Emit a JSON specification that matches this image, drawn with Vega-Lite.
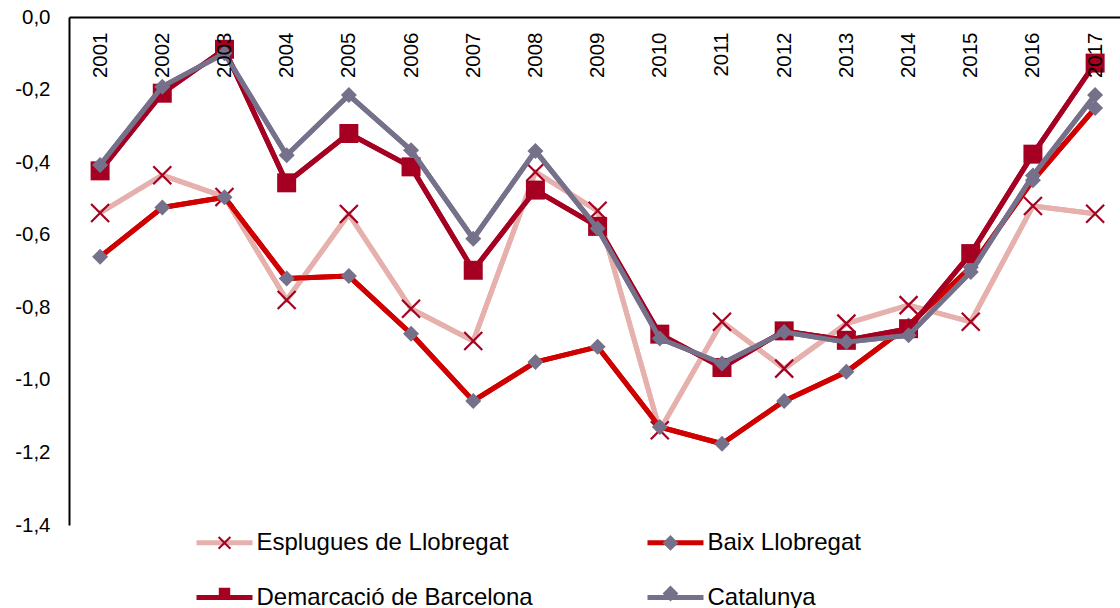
{
  "$schema": "https://vega.github.io/schema/vega-lite/v6.json",
  "width": 1051,
  "height": 508,
  "autosize": {"type": "none"},
  "padding": {"left": 69, "top": 17, "right": 0, "bottom": 83},
  "background": "white",
  "config": {"view": {"stroke": null}},
  "data": {"values": [
    {"year": 2001, "serie": "Esplugues de Llobregat", "v": -0.54},
    {"year": 2002, "serie": "Esplugues de Llobregat", "v": -0.436},
    {"year": 2003, "serie": "Esplugues de Llobregat", "v": -0.496},
    {"year": 2004, "serie": "Esplugues de Llobregat", "v": -0.78},
    {"year": 2005, "serie": "Esplugues de Llobregat", "v": -0.543},
    {"year": 2006, "serie": "Esplugues de Llobregat", "v": -0.804},
    {"year": 2007, "serie": "Esplugues de Llobregat", "v": -0.893},
    {"year": 2008, "serie": "Esplugues de Llobregat", "v": -0.427},
    {"year": 2009, "serie": "Esplugues de Llobregat", "v": -0.534},
    {"year": 2010, "serie": "Esplugues de Llobregat", "v": -1.139},
    {"year": 2011, "serie": "Esplugues de Llobregat", "v": -0.84},
    {"year": 2012, "serie": "Esplugues de Llobregat", "v": -0.969},
    {"year": 2013, "serie": "Esplugues de Llobregat", "v": -0.845},
    {"year": 2014, "serie": "Esplugues de Llobregat", "v": -0.794},
    {"year": 2015, "serie": "Esplugues de Llobregat", "v": -0.84},
    {"year": 2016, "serie": "Esplugues de Llobregat", "v": -0.521},
    {"year": 2017, "serie": "Esplugues de Llobregat", "v": -0.542},
    {"year": 2001, "serie": "Baix Llobregat", "v": -0.661},
    {"year": 2002, "serie": "Baix Llobregat", "v": -0.525},
    {"year": 2003, "serie": "Baix Llobregat", "v": -0.497},
    {"year": 2004, "serie": "Baix Llobregat", "v": -0.721},
    {"year": 2005, "serie": "Baix Llobregat", "v": -0.714},
    {"year": 2006, "serie": "Baix Llobregat", "v": -0.873},
    {"year": 2007, "serie": "Baix Llobregat", "v": -1.058},
    {"year": 2008, "serie": "Baix Llobregat", "v": -0.951},
    {"year": 2009, "serie": "Baix Llobregat", "v": -0.909},
    {"year": 2010, "serie": "Baix Llobregat", "v": -1.13},
    {"year": 2011, "serie": "Baix Llobregat", "v": -1.176},
    {"year": 2012, "serie": "Baix Llobregat", "v": -1.058},
    {"year": 2013, "serie": "Baix Llobregat", "v": -0.978},
    {"year": 2014, "serie": "Baix Llobregat", "v": -0.85},
    {"year": 2015, "serie": "Baix Llobregat", "v": -0.69},
    {"year": 2016, "serie": "Baix Llobregat", "v": -0.45},
    {"year": 2017, "serie": "Baix Llobregat", "v": -0.251},
    {"year": 2001, "serie": "Demarcació de Barcelona", "v": -0.424},
    {"year": 2002, "serie": "Demarcació de Barcelona", "v": -0.21},
    {"year": 2003, "serie": "Demarcació de Barcelona", "v": -0.089},
    {"year": 2004, "serie": "Demarcació de Barcelona", "v": -0.457},
    {"year": 2005, "serie": "Demarcació de Barcelona", "v": -0.321},
    {"year": 2006, "serie": "Demarcació de Barcelona", "v": -0.413},
    {"year": 2007, "serie": "Demarcació de Barcelona", "v": -0.698},
    {"year": 2008, "serie": "Demarcació de Barcelona", "v": -0.477},
    {"year": 2009, "serie": "Demarcació de Barcelona", "v": -0.577},
    {"year": 2010, "serie": "Demarcació de Barcelona", "v": -0.874},
    {"year": 2011, "serie": "Demarcació de Barcelona", "v": -0.966},
    {"year": 2012, "serie": "Demarcació de Barcelona", "v": -0.865},
    {"year": 2013, "serie": "Demarcació de Barcelona", "v": -0.891},
    {"year": 2014, "serie": "Demarcació de Barcelona", "v": -0.859},
    {"year": 2015, "serie": "Demarcació de Barcelona", "v": -0.652},
    {"year": 2016, "serie": "Demarcació de Barcelona", "v": -0.378},
    {"year": 2017, "serie": "Demarcació de Barcelona", "v": -0.127},
    {"year": 2001, "serie": "Catalunya", "v": -0.408},
    {"year": 2002, "serie": "Catalunya", "v": -0.192},
    {"year": 2003, "serie": "Catalunya", "v": -0.1},
    {"year": 2004, "serie": "Catalunya", "v": -0.381},
    {"year": 2005, "serie": "Catalunya", "v": -0.215},
    {"year": 2006, "serie": "Catalunya", "v": -0.367},
    {"year": 2007, "serie": "Catalunya", "v": -0.611},
    {"year": 2008, "serie": "Catalunya", "v": -0.369},
    {"year": 2009, "serie": "Catalunya", "v": -0.583},
    {"year": 2010, "serie": "Catalunya", "v": -0.886},
    {"year": 2011, "serie": "Catalunya", "v": -0.955},
    {"year": 2012, "serie": "Catalunya", "v": -0.868},
    {"year": 2013, "serie": "Catalunya", "v": -0.896},
    {"year": 2014, "serie": "Catalunya", "v": -0.877},
    {"year": 2015, "serie": "Catalunya", "v": -0.703},
    {"year": 2016, "serie": "Catalunya", "v": -0.437},
    {"year": 2017, "serie": "Catalunya", "v": -0.215}
  ]},
  "encoding": {
    "x": {
      "field": "year", "type": "quantitative",
      "scale": {"domain": [2000.5, 2017.4], "nice": false, "zero": false},
      "axis": {
        "orient": "top", "title": null, "grid": false, "ticks": false, "tickSize": 0,
        "values": [2001,2002,2003,2004,2005,2006,2007,2008,2009,2010,2011,2012,2013,2014,2015,2016,2017],
        "format": "d", "domainColor": "#000000", "domainWidth": 2,
        "labelAngle": -90, "labelAlign": "right", "labelBaseline": "middle", "labelPadding": -15,
        "labelFont": "Liberation Sans", "labelFontSize": 20.5, "labelColor": "#000000",
        "labelFlush": false, "labelOverlap": false, "labelBound": false, "zindex": 1
      }
    },
    "y": {
      "field": "v", "type": "quantitative",
      "scale": {"domain": [-1.4, 0], "nice": false, "zero": false},
      "axis": {
        "orient": "left", "title": null, "grid": false, "ticks": false, "tickSize": 0,
        "values": [-1.4, -1.2, -1.0, -0.8, -0.6, -0.4, -0.2, 0],
        "labelExpr": "replace(replace(format(datum.value, '.1f'), '.', ','), '\u2212', '-')",
        "domainColor": "#000000", "domainWidth": 2, "labelPadding": 19,
        "labelFont": "Liberation Sans", "labelFontSize": 20.5, "labelColor": "#000000",
        "labelFlush": false, "labelOverlap": false, "labelBound": false, "zindex": 1
      }
    }
  },
  "layer": [
    {
      "mark": {"type": "line", "strokeWidth": 5, "strokeJoin": "round"},
      "encoding": {
        "color": {
          "field": "serie", "type": "nominal",
          "scale": {
            "domain": ["Esplugues de Llobregat", "Baix Llobregat", "Demarcació de Barcelona", "Catalunya"],
            "range": ["#E6B0AC", "#D00000", "#A50021", "#76718A"]
          },
          "legend": {
            "orient": "none", "legendX": 125, "legendY": 495, "columns": 2, "direction": "horizontal",
            "title": null, "padding": 0,
            "symbolType": "M-1,0H1M0,-0.5M0,0.5", "symbolSize": 3136, "symbolStrokeWidth": 5, "symbolOpacity": 1,
            "labelFont": "Liberation Sans", "labelFontSize": 24, "labelColor": "#000000", "labelLimit": 0,
            "labelOffset": 1.5, "columnPadding": 104, "rowPadding": -2
          }
        }
      }
    },
    {
      "transform": [{"filter": "datum.v <= 0"}],
      "mark": {"type": "point", "size": 1, "strokeWidth": 2, "filled": true, "opacity": 1},
      "encoding": {
        "fill": {
          "field": "serie", "type": "nominal", "legend": null,
          "scale": {"domain": ["Esplugues de Llobregat", "Baix Llobregat", "Demarcació de Barcelona", "Catalunya"], "range": ["transparent", "#76718A", "#A50021", "#76718A"]}
        },
        "stroke": {
          "field": "serie", "type": "nominal", "legend": null,
          "scale": {"domain": ["Esplugues de Llobregat", "Baix Llobregat", "Demarcació de Barcelona", "Catalunya"], "range": ["#A50021", "#76718A", "#A50021", "#76718A"]}
        },
        "shape": {
          "field": "serie", "type": "nominal",
          "sort": ["Esplugues de Llobregat", "Baix Llobregat", "Demarcació de Barcelona", "Catalunya"],
          "scale": {"range": [
            "M-1,0M1,0M0,-0.533M0,0.533M-0.2,-0.2L0.2,0.2M-0.2,0.2L0.2,-0.2",
            "M-1,0M1,0M0,-0.533M0,0.533M0,-0.22L0.22,0L0,0.22L-0.22,0Z",
            "M-1,0M1,0M0,-0.533M0,0.533M-0.16,-0.16H0.16V0.16H-0.16Z",
            "M-1,0M1,0M0,-0.533M0,0.533M0,-0.22L0.22,0L0,0.22L-0.22,0Z"
          ]},
          "legend": {
            "orient": "none", "legendX": 125, "legendY": 495, "columns": 2, "direction": "horizontal",
            "title": null, "padding": 0,
            "symbolSize": 3481, "symbolStrokeWidth": 2, "symbolOpacity": 1,
            "symbolFillColor": {"expr": "datum.value === 'Esplugues de Llobregat' ? 'transparent' : (datum.value === 'Demarcació de Barcelona' ? '#A50021' : '#76718A')"},
            "symbolStrokeColor": {"expr": "(datum.value === 'Baix Llobregat' || datum.value === 'Catalunya') ? '#76718A' : '#A50021'"},
            "labelFont": "Liberation Sans", "labelFontSize": 24, "labelOpacity": 0, "labelLimit": 0,
            "labelOffset": 1.5, "columnPadding": 104, "rowPadding": -2
          }
        }
      }
    },
    {
      "transform": [{"filter": {"field": "serie", "equal": "Esplugues de Llobregat"}}],
      "mark": {"type": "line", "color": "#E6B0AC", "strokeWidth": 5, "strokeJoin": "round"}
    },
    {
      "transform": [{"filter": {"field": "serie", "equal": "Esplugues de Llobregat"}}],
      "mark": {"type": "point", "shape": "M-1,-1L1,1M-1,1L1,-1", "filled": false, "stroke": "#A50021", "strokeWidth": 2.2, "size": 324, "opacity": 1}
    },
    {
      "transform": [{"filter": {"field": "serie", "equal": "Baix Llobregat"}}],
      "mark": {"type": "line", "color": "#D00000", "strokeWidth": 5, "strokeJoin": "round"}
    },
    {
      "transform": [{"filter": {"field": "serie", "equal": "Baix Llobregat"}}],
      "mark": {"type": "point", "shape": "diamond", "filled": true, "color": "#76718A", "size": 256, "opacity": 1}
    },
    {
      "transform": [{"filter": {"field": "serie", "equal": "Demarcació de Barcelona"}}],
      "mark": {"type": "line", "color": "#A50021", "strokeWidth": 5, "strokeJoin": "round"}
    },
    {
      "transform": [{"filter": {"field": "serie", "equal": "Demarcació de Barcelona"}}],
      "mark": {"type": "point", "shape": "square", "filled": true, "color": "#A50021", "size": 361, "opacity": 1}
    },
    {
      "transform": [{"filter": {"field": "serie", "equal": "Catalunya"}}],
      "mark": {"type": "line", "color": "#76718A", "strokeWidth": 5, "strokeJoin": "round"}
    },
    {
      "transform": [{"filter": {"field": "serie", "equal": "Catalunya"}}],
      "mark": {"type": "point", "shape": "diamond", "filled": true, "color": "#76718A", "size": 256, "opacity": 1}
    }
  ]
}
